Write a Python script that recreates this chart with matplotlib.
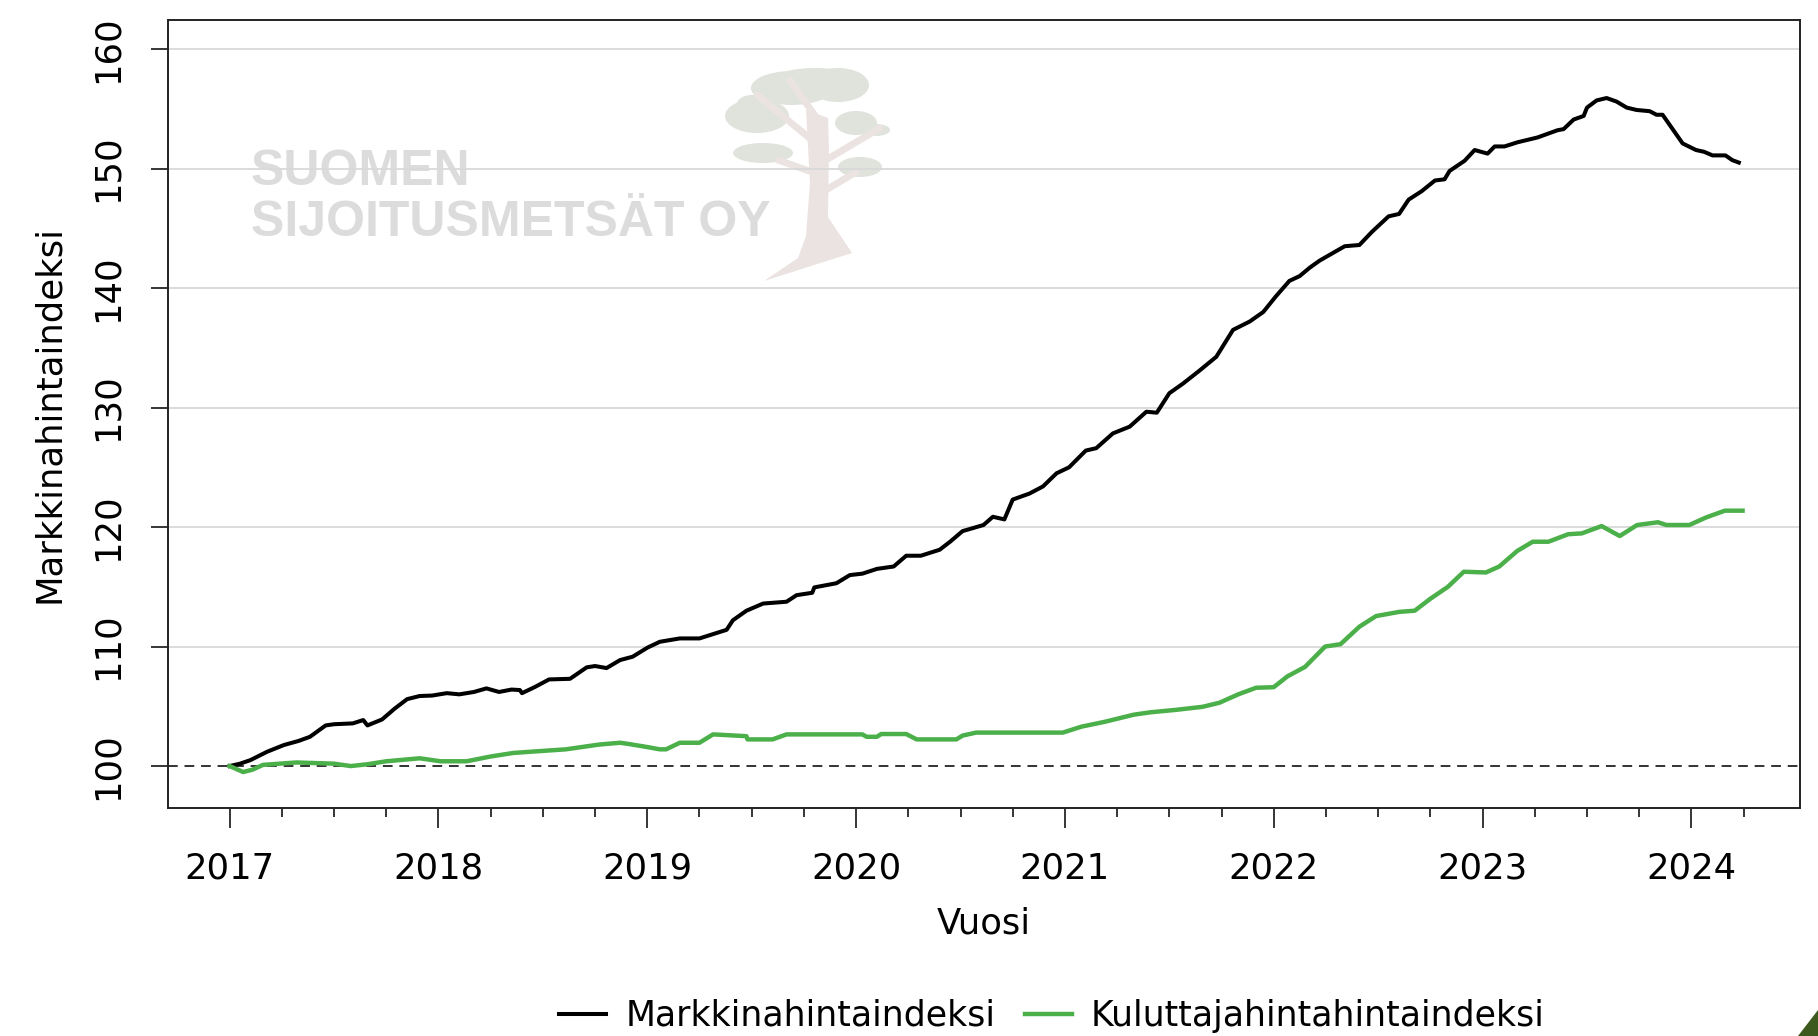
import numpy as np
import matplotlib
matplotlib.use("Agg")
import matplotlib.pyplot as plt
from matplotlib.patches import Ellipse, Polygon

# Markkinahintaindeksi (black)
markkina_vuosi = [2017.00, 2017.05, 2017.10, 2017.18, 2017.26, 2017.33, 2017.385, 2017.46, 2017.50,
                  2017.59, 2017.64, 2017.66, 2017.73, 2017.79, 2017.85, 2017.91, 2017.97, 2018.04,
                  2018.10, 2018.17, 2018.23, 2018.29, 2018.35, 2018.39, 2018.40, 2018.46, 2018.53,
                  2018.63, 2018.71, 2018.75, 2018.805, 2018.87, 2018.93, 2019.00, 2019.06, 2019.156,
                  2019.25, 2019.38, 2019.41, 2019.475, 2019.555, 2019.667, 2019.715, 2019.79, 2019.80,
                  2019.906, 2019.97, 2020.03, 2020.10, 2020.18, 2020.24, 2020.31, 2020.40, 2020.45,
                  2020.51, 2020.61, 2020.655, 2020.71, 2020.75, 2020.83, 2020.895, 2020.96, 2021.02,
                  2021.10, 2021.15, 2021.23, 2021.31, 2021.39, 2021.44, 2021.50, 2021.565, 2021.645,
                  2021.725, 2021.805, 2021.885, 2021.95, 2022.01, 2022.075, 2022.124, 2022.172, 2022.22,
                  2022.28, 2022.34, 2022.41, 2022.47, 2022.55, 2022.60, 2022.646, 2022.708, 2022.772,
                  2022.818, 2022.842, 2022.914, 2022.962, 2023.024, 2023.058, 2023.105, 2023.168,
                  2023.263, 2023.358, 2023.388, 2023.436, 2023.484, 2023.50, 2023.546, 2023.594,
                  2023.642, 2023.69, 2023.738, 2023.80, 2023.833, 2023.862, 2023.91, 2023.958,
                  2024.022, 2024.061, 2024.101, 2024.163, 2024.196, 2024.227]
markkina_arvo = [100.0, 100.2, 100.5, 101.2, 101.76, 102.1, 102.45, 103.4, 103.5,
                 103.57, 103.85, 103.4, 103.9, 104.8, 105.6, 105.86, 105.9, 106.1,
                 106.0, 106.2, 106.5, 106.2, 106.4, 106.36, 106.1, 106.6, 107.25,
                 107.3, 108.26, 108.37, 108.2, 108.87, 109.15, 109.9, 110.4, 110.68,
                 110.68, 111.4, 112.2, 113.0, 113.6, 113.75, 114.3, 114.5, 114.95,
                 115.3, 115.98, 116.1, 116.5, 116.7, 117.6, 117.6, 118.1, 118.77,
                 119.66, 120.17, 120.86, 120.64, 122.3, 122.8, 123.4, 124.5, 125.0,
                 126.4, 126.6, 127.84, 128.4, 129.65, 129.57, 131.2, 132.0, 133.1,
                 134.25, 136.5, 137.2, 138.0, 139.3, 140.6, 141.0, 141.7, 142.3,
                 142.9, 143.5, 143.6, 144.7, 146.0, 146.2, 147.4, 148.1, 149.0,
                 149.1, 149.8, 150.65, 151.55, 151.25, 151.85, 151.85, 152.2,
                 152.6, 153.2, 153.3, 154.1, 154.4, 155.1, 155.7, 155.9,
                 155.6, 155.1, 154.9, 154.8, 154.5, 154.5, 153.3, 152.1,
                 151.55, 151.4, 151.1, 151.1, 150.7, 150.5]

# Kuluttajahintaindeksi (green)
kuluttaja_vuosi = [2017.00, 2017.065, 2017.11, 2017.16, 2017.32, 2017.50, 2017.58, 2017.66, 2017.75,
                   2017.91, 2018.01, 2018.135, 2018.25, 2018.36, 2018.61, 2018.77, 2018.87, 2018.91,
                   2018.997, 2019.06, 2019.09, 2019.156, 2019.25, 2019.315, 2019.475, 2019.48, 2019.60,
                   2019.667, 2020.03, 2020.05, 2020.10, 2020.12, 2020.24, 2020.29, 2020.48, 2020.51,
                   2020.575, 2020.99, 2021.08, 2021.19, 2021.33, 2021.41, 2021.53, 2021.66, 2021.74,
                   2021.83, 2021.915, 2022.00, 2022.065, 2022.15, 2022.246, 2022.32, 2022.41, 2022.49,
                   2022.60, 2022.675, 2022.75, 2022.834, 2022.91, 2023.016, 2023.08, 2023.166, 2023.24,
                   2023.315, 2023.41, 2023.475, 2023.57, 2023.657, 2023.74, 2023.84, 2023.88, 2023.99,
                   2024.07, 2024.16, 2024.245]
kuluttaja_arvo = [100.0, 99.5, 99.7, 100.1, 100.3, 100.2, 100.0, 100.15, 100.4,
                  100.65, 100.4, 100.4, 100.8, 101.1, 101.4, 101.8, 101.95, 101.85,
                  101.6, 101.4, 101.4, 101.95, 101.95, 102.65, 102.5, 102.23, 102.23,
                  102.65, 102.65, 102.45, 102.45, 102.68, 102.68, 102.23, 102.23, 102.55,
                  102.8, 102.8, 103.3, 103.7, 104.3, 104.5, 104.7, 104.96, 105.3,
                  106.0, 106.55, 106.6, 107.5, 108.3, 110.0, 110.2, 111.66, 112.55,
                  112.9, 113.0, 114.0, 115.0, 116.26, 116.2, 116.7, 118.0, 118.77,
                  118.77, 119.4, 119.47, 120.08, 119.25, 120.17, 120.4, 120.17, 120.17,
                  120.8, 121.37, 121.37]

vuodet = [2017, 2018, 2019, 2020, 2021, 2022, 2023, 2024]
y_tikit = [100, 110, 120, 130, 140, 150, 160]

plt.rcParams['font.family'] = ['DejaVu Sans']

W, H = 1818, 1036
fig = plt.figure(figsize=(W / 100, H / 100), dpi=100)
fig.patch.set_facecolor('white')

# background layer in pixel units for the watermark
bg = fig.add_axes([0, 0, 1, 1], zorder=0)
bg.set_xlim(0, W)
bg.set_ylim(H, 0)
bg.axis('off')

bg.text(251, 185, "SUOMEN", family='Liberation Sans', weight='bold', fontsize=36,
        color='#dcdcdc', va='baseline', ha='left')
bg.text(251, 236, "SIJOITUSMETSÄT OY", family='Liberation Sans', weight='bold', fontsize=36,
        color='#dcdcdc', va='baseline', ha='left')

# tree: crowns then trunk and branches
latvat = [((792, 88), 82, 34), ((838, 85), 62, 34), ((815, 76), 70, 16),
          ((757, 116), 64, 34), ((752, 104), 30, 18),
          ((856, 123), 42, 24), ((876, 130), 28, 12),
          ((763, 153), 60, 20), ((860, 167), 44, 20)]
for c, w, h in latvat:
    bg.add_patch(Ellipse(c, w, h, color='#dfe3dc', lw=0))
runko = [(764, 281), (798, 258), (806, 236), (810, 183), (806, 110), (828, 118),
         (829, 150), (828, 217), (852, 253)]
bg.add_patch(Polygon(runko, closed=True, color='#ebe3e1', lw=0))
for (x0, y0), (x1, y1) in [((812, 140), (757, 95)), ((826, 160), (880, 128)),
                           ((812, 172), (778, 160)), ((826, 190), (856, 172)),
                           ((818, 120), (790, 80))]:
    bg.plot([x0, x1], [y0, y1], color='#ebe3e1', lw=5, solid_capstyle='round')

bg.add_patch(Polygon([(1798, 1036), (1818, 1036), (1818, 1010)], closed=True,
                     color='#3d5a1e', lw=0))

# main chart
ax = fig.add_axes([168 / W, 1 - 808 / H, (1800 - 168) / W, (808 - 20) / H], zorder=1)
ax.set_facecolor('none')

for v in y_tikit:
    if v != 100:
        ax.axhline(v, color='#d9d9d9', lw=1.3, zorder=1)
ax.axhline(100, color='#333333', lw=1.4, ls=(0, (5, 3.5)), zorder=2)

l1, = ax.plot(markkina_vuosi, markkina_arvo, color='black', lw=2.9, zorder=3,
              label='Markkinahintaindeksi')
l2, = ax.plot(kuluttaja_vuosi, kuluttaja_arvo, color='#4cb04a', lw=3.2, zorder=3,
              label='Kuluttajahintahintaindeksi')

ax.set_xlim(2016.705, 2024.52)
ax.set_ylim(96.49, 162.43)

ax.set_xticks(vuodet)
ax.set_xticklabels([str(v) for v in vuodet])
ax.set_xticks(np.arange(2017, 2024.26, 0.25), minor=True)
ax.set_yticks(y_tikit)
ax.set_yticklabels([str(v) for v in y_tikit], rotation=90, va='center')

ax.tick_params(axis='x', which='major', length=14.5, width=1.1, pad=17, labelsize=25.5)
ax.tick_params(axis='x', which='minor', length=6.5, width=1.1)
ax.tick_params(axis='y', which='major', length=12, width=1.1, pad=19, labelsize=25.5)

for s in ax.spines.values():
    s.set_linewidth(1.4)
    s.set_color('#222222')

ax.set_ylabel('Markkinahintaindeksi', fontsize=25.5, va='center')
ax.yaxis.set_label_coords(-0.0729, 0.5)
ax.set_xlabel('Vuosi', fontsize=25.5, va='center')
ax.xaxis.set_label_coords(0.5, -0.147)

fig.legend(handles=[l1, l2], loc='center', bbox_to_anchor=(1052 / W, 1 - 1016 / H),
           ncol=2, frameon=False, fontsize=25, handlelength=1.35, handletextpad=0.55,
           columnspacing=0.85)

fig.savefig('out.png', dpi=100)
